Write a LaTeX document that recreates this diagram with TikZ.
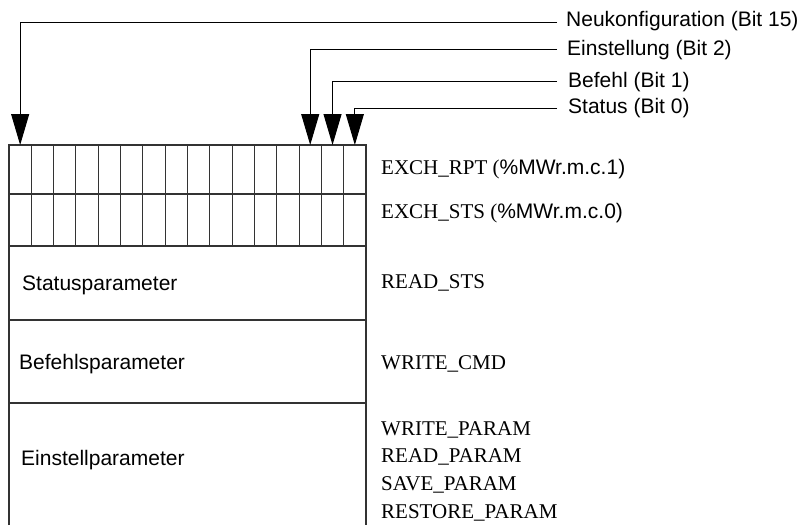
\documentclass[tikz,border=0pt]{standalone}
\usepackage{fontspec}
\setmainfont{Liberation Serif}
\setsansfont{Liberation Sans}
\usetikzlibrary{arrows.meta}
\begin{document}
\begin{tikzpicture}[x=1pt,y=-1pt,
  boxline/.style={line width=1.1pt, draw=black!80},
  conn/.style={line width=1pt, -{Triangle[width=18pt,length=31pt]}},
  lbl/.style={anchor=base west, inner sep=0pt, font=\fontsize{21}{24}\selectfont\sffamily},
  sig/.style={anchor=base west, inner sep=0pt, font=\fontsize{21}{24}\selectfont\rmfamily},
  rowlbl/.style={anchor=base west, inner sep=0pt, font=\fontsize{21}{24}\selectfont\sffamily}]
\useasboundingbox (0,0) rectangle (800,525);

% register block
\draw[boxline] (9,525) -- (9,145) -- (366,145) -- (366,525);
\draw[boxline] (9,194) -- (366,194);
\draw[boxline] (9,246) -- (366,246);
\draw[boxline] (9,320) -- (366,320);
\draw[boxline] (9,403) -- (366,403);
\foreach \k in {1,...,15}
  \draw[boxline] ({9+\k*22.3125},145) -- ({9+\k*22.3125},246);

% bit targets
\coordinate (b15) at ({9+0.5*22.3125},145);
\coordinate (b2)  at ({9+13.5*22.3125},145);
\coordinate (b1)  at ({9+14.5*22.3125},145);
\coordinate (b0)  at ({9+15.5*22.3125},145);

% bit labels
\node[lbl] (neu) at (566,26) {Neukonfiguration (Bit 15)};
\node[lbl] (ein) at (567,55) {Einstellung (Bit 2)};
\node[lbl] (bef) at (568,87) {Befehl (Bit 1)};
\node[lbl] (sta) at (568,113) {Status (Bit 0)};

\coordinate (neuS) at (557,22);
\coordinate (einS) at (557,49);
\coordinate (befS) at (557,81);
\coordinate (staS) at (557,108);

\draw[conn] (neuS) -| (b15);
\draw[conn] (einS) -| (b2);
\draw[conn] (befS) -| (b1);
\draw[conn] (staS) -| (b0);

% row labels
\node[rowlbl] (rsts) at (22,290) {Statusparameter};
\node[rowlbl] (rcmd) at (19,369) {Befehlsparameter};
\node[rowlbl] (rpar) at (21,465) {Einstellparameter};

% signal names
\node[sig] (rpt) at (381,174) {EXCH\_RPT (\sffamily\%MWr.m.c.1)};
\node[sig] (sts) at (381,218) {EXCH\_STS (\sffamily\%MWr.m.c.0)};
\node[sig] (rdsts) at (381,288) {READ\_STS};
\node[sig] (wcmd) at (381,369) {WRITE\_CMD};
\node[sig] (wpar) at (381,435) {WRITE\_PARAM};
\node[sig] (rpar2) at (381,462) {READ\_PARAM};
\node[sig] (spar) at (381,490) {SAVE\_PARAM};
\node[sig] (respar) at (381,518) {RESTORE\_PARAM};
\end{tikzpicture}
\end{document}
